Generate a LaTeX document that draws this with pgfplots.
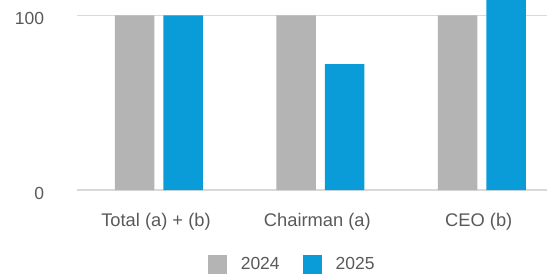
\documentclass[border=0pt]{standalone}
\usepackage{pgfplots}
\pgfplotsset{compat=1.18}
\usepackage{fontspec}
\setmainfont{Liberation Sans}
\definecolor{gray24}{RGB}{180,180,180}
\definecolor{blue25}{RGB}{9,156,217}
\definecolor{txt}{RGB}{89,89,89}
\definecolor{gridc}{RGB}{217,217,217}
\begin{document}
\begin{tikzpicture}
\path[use as bounding box] (-77.3bp,-85bp) rectangle (469.7bp,190bp);
\begin{axis}[
  scale only axis,
  width=469.7bp, height=190bp,
  xmin=-0.506, xmax=2.404,
  ymin=0, ymax=108.76,
  ybar=9bp, bar width=39.5bp,
  xtick={0,1,2},
  xticklabels={Total (a) + (b), Chairman (a), CEO (b)},
  ytick={0,100},
  major tick length=0pt,
  axis line style={draw=none},
  ymajorgrids,
  grid style={draw=gridc, line width=1.2bp},
  /pgf/number format/assume math mode=true,
  font=\fontsize{17.5bp}{21bp}\selectfont,
  tick label style={text=txt, inner sep=0pt, font=\fontsize{17.5bp}{21bp}\selectfont},
  yticklabel style={anchor=east, xshift=-33bp, yshift=-3bp},
  xticklabel style={anchor=base, yshift=-36.7bp, xshift=-3bp, font=\fontsize{18.3bp}{22bp}\selectfont},
  legend columns=2,
  legend style={at={(0.4554,-0.392)}, anchor=center, draw=none, fill=none,
    inner sep=0pt, text=txt, nodes={inner sep=0pt},
    font=\fontsize{17.5bp}{21bp}\selectfont,
    /tikz/every odd column/.append style={column sep=14bp},
    /tikz/every even column/.append style={column sep=23bp}},
  legend image code/.code={\fill[#1] (0bp,-9.5bp) rectangle (19bp,9.5bp);},
]
\addplot[fill=gray24, draw=none] coordinates {(0,100) (1,100) (2,100)};
\addplot[fill=blue25, draw=none] coordinates {(0,100) (1,72) (2,115)};
\legend{2024, 2025}
\end{axis}
\end{tikzpicture}
\end{document}
